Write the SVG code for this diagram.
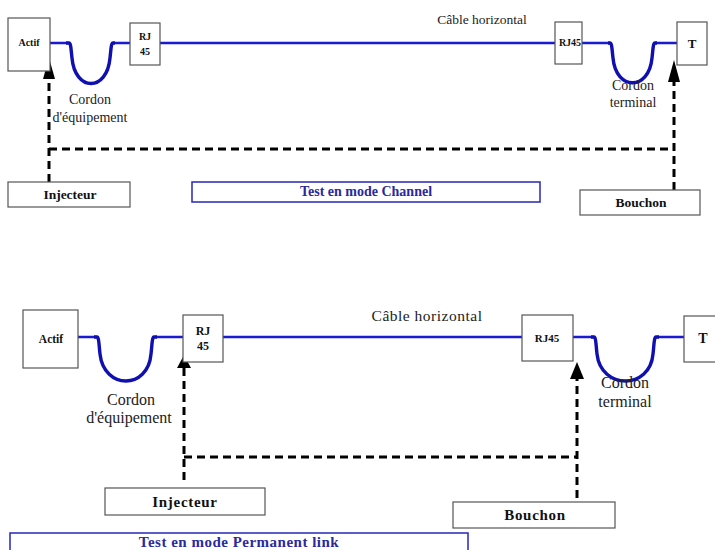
<svg xmlns="http://www.w3.org/2000/svg" width="715" height="550" viewBox="0 0 715 550">
<style>
.box{fill:#fff;stroke:#555;stroke-width:1.2}
.tbox{fill:#fff;stroke:#2626b8;stroke-width:1.5}
.cab{fill:none;stroke:#1a1ad0;stroke-width:2.4}
.cord{fill:none;stroke:#1010b0;stroke-width:3.4;stroke-linejoin:round}
.dash{fill:none;stroke:#000;stroke-width:3;stroke-dasharray:8 5}
.lbl{font-family:"Liberation Serif",serif;fill:#222;text-anchor:middle}
.b{font-weight:bold;fill:#111}
.blue{font-weight:bold;fill:#2a2a9c}
</style>
<rect width="715" height="550" fill="#fff"/>
<g id="connectors">
  <path class="cab" d="M50 43H68M113 43H130M160 43H555M582 43H610M655 43H677"/>
  <path class="cord" d="M66 43H69C71 43 71 50 72 58C75 92 107 92 110 58C111 50 111 43 113 43H115"/>
  <path class="cord" d="M608 43H610C612 43 612 50 613 58C616 91 649 91 652 58C653 50 653 43 655 43H657"/>
  <path class="dash" d="M49 182V78M49 149H674M674 190V80"/>
  <polygon points="49,58 43,79 55,79" fill="#000"/>
  <polygon points="674,60 668,82 680,82" fill="#000"/>
  <path class="cab" d="M78 337H96M155 337H183M223 337H522M573 337H593M657 337H684"/>
  <path class="cord" d="M94 337H97C99 337 99 346 100 354C104 390 148 390 151 354C152 346 152 337 154 337H157"/>
  <path class="cord" d="M591 337H594C596 337 596 346 597 354C601 390 650 390 653 354C654 346 654 337 656 337H659"/>
  <path class="dash" d="M184 480V367M184 457H577M577 498V377"/>
  <polygon points="184,355 177,368 191,368" fill="#000"/>
  <polygon points="577,362 570,379 584,379" fill="#000"/>
</g>
<g id="actif1"><rect class="box" x="8" y="18" width="42" height="53"/><text class="lbl b" x="29" y="46" font-size="10">Actif</text></g>
<g id="rj1"><rect class="box" x="130" y="23" width="30" height="42"/><text class="lbl b" x="145" y="40" font-size="10">RJ</text><text class="lbl b" x="145" y="55" font-size="10">45</text></g>
<g id="rj2"><rect class="box" x="555" y="22" width="27" height="42"/><text class="lbl b" x="570" y="46" font-size="10">RJ45</text></g>
<g id="t1"><rect class="box" x="677" y="22" width="30" height="43"/><text class="lbl b" x="692" y="48" font-size="13">T</text></g>
<g id="cable1"><text class="lbl" x="482" y="24" font-size="13.5">Câble horizontal</text></g>
<g id="cordeq1"><text class="lbl" x="90" y="104" font-size="14">Cordon</text><text class="lbl" x="90" y="122" font-size="14">d'équipement</text></g>
<g id="cordterm1"><text class="lbl" x="633" y="90" font-size="14">Cordon</text><text class="lbl" x="633" y="107" font-size="14">terminal</text></g>
<g id="inj1"><rect class="box" x="8" y="182" width="122" height="25"/><text class="lbl b" x="70" y="199" font-size="13.5">Injecteur</text></g>
<g id="bouch1"><rect class="box" x="580" y="190" width="120" height="25"/><text class="lbl b" x="641" y="207" font-size="13.5">Bouchon</text></g>
<g id="mode1"><rect class="tbox" x="192" y="182" width="348" height="20"/><text class="lbl blue" x="366" y="196" font-size="14">Test en mode Channel</text></g>

<g id="actif2"><rect class="box" x="23" y="310" width="55" height="58"/><text class="lbl b" x="51" y="343" font-size="11.5">Actif</text></g>
<g id="rj3"><rect class="box" x="183" y="315" width="40" height="47"/><text class="lbl b" x="203" y="335" font-size="12">RJ</text><text class="lbl b" x="203" y="350" font-size="12">45</text></g>
<g id="rj4"><rect class="box" x="522" y="315" width="51" height="46"/><text class="lbl b" x="547" y="342" font-size="11">RJ45</text></g>
<g id="t2"><rect class="box" x="684" y="316" width="40" height="46"/><text class="lbl b" x="703" y="343" font-size="14">T</text></g>
<g id="cable2"><text class="lbl" x="427" y="321" font-size="15.5" letter-spacing="0.5">Câble horizontal</text></g>
<g id="cordeq2"><text class="lbl" x="131" y="405" font-size="16">Cordon</text><text class="lbl" x="129" y="423" font-size="16">d'équipement</text></g>
<g id="cordterm2"><text class="lbl" x="625" y="388" font-size="16">Cordon</text><text class="lbl" x="625" y="407" font-size="16">terminal</text></g>
<g id="inj2"><rect class="box" x="105" y="488" width="160" height="27"/><text class="lbl b" x="185" y="507" font-size="15" letter-spacing="0.7">Injecteur</text></g>
<g id="bouch2"><rect class="box" x="453" y="502" width="162" height="26"/><text class="lbl b" x="535" y="520" font-size="15" letter-spacing="0.7">Bouchon</text></g>
<g id="mode2"><rect class="tbox" x="10" y="533" width="458" height="25"/><text class="lbl blue" x="239" y="547" font-size="15" letter-spacing="0.5">Test en mode Permanent link</text></g>
</svg>
